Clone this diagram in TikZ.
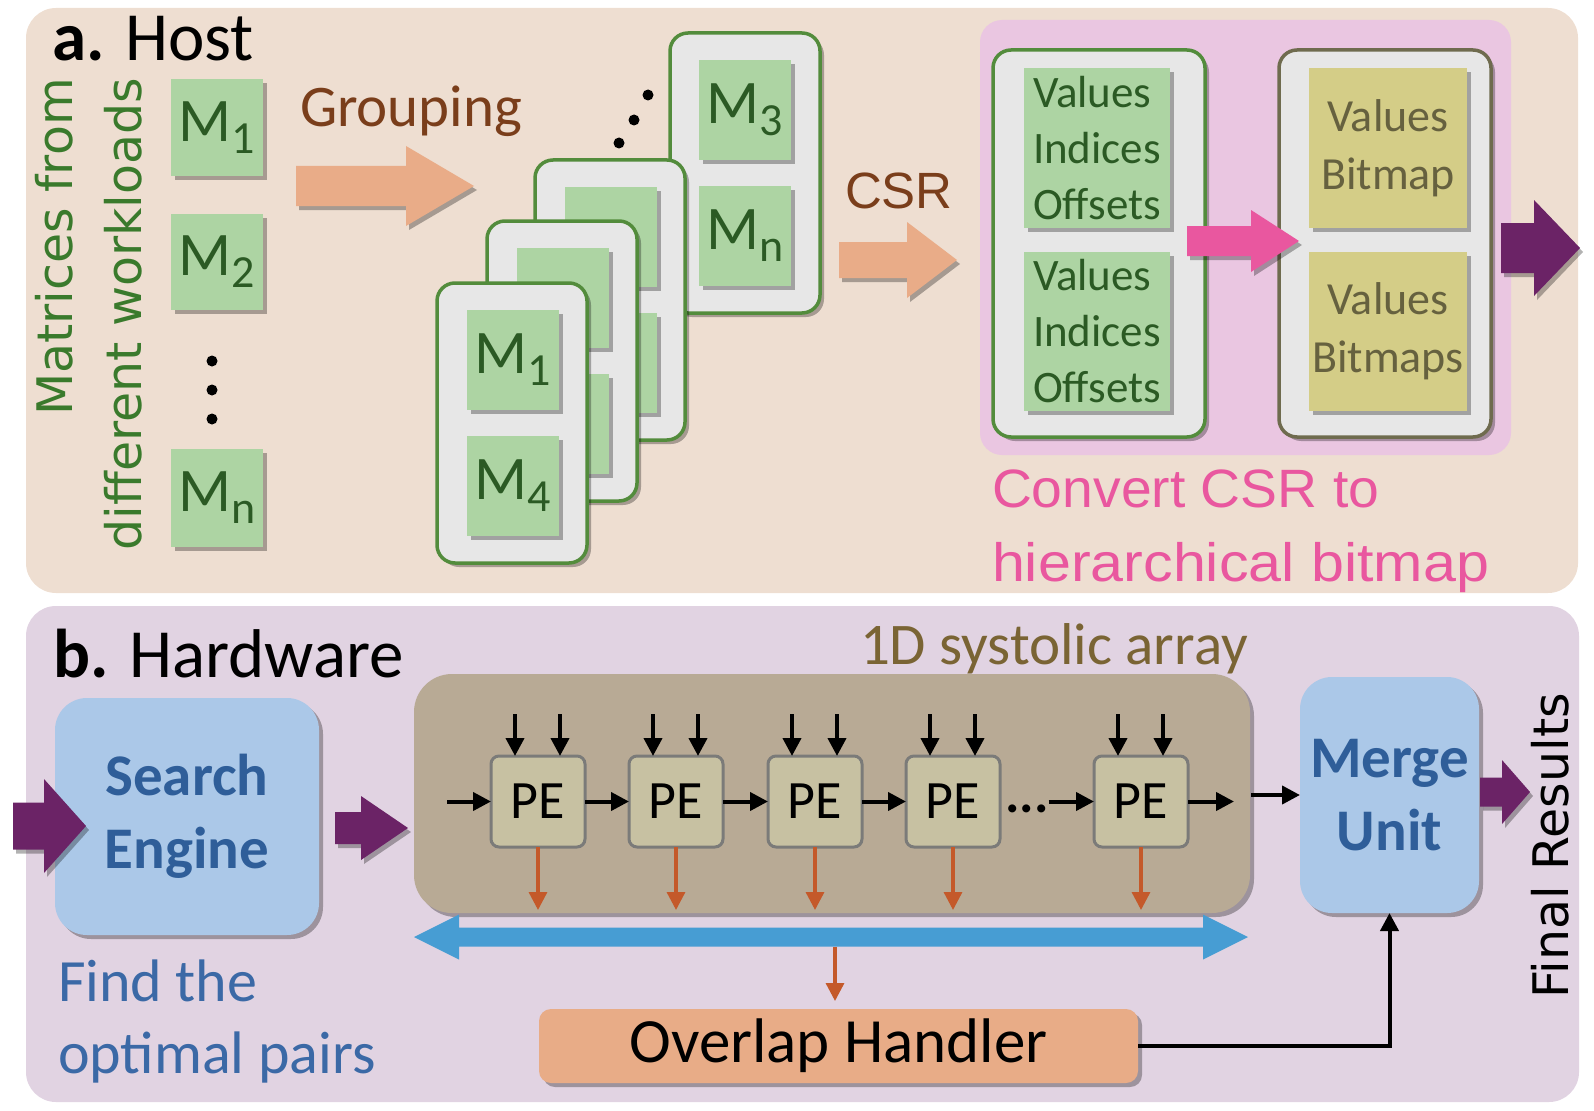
\documentclass[tikz,border=0pt]{standalone}
\usepackage{fontspec}
\setmainfont{Carlito}
\newfontfamily\arialf{Liberation Sans}
\newfontfamily\verdf{DejaVu Sans}
\usetikzlibrary{shadows,arrows.meta,calc}
\newcommand{\setfs}[1]{\fontsize{#1}{#1}\selectfont}
\newcommand{\Msub}[1]{M\raisebox{-12pt}{\setfs{46}#1}}
\newcommand{\mkbox}[7]{\node[#1, minimum width={(#5)-(#3)}, minimum height={(#6)-(#4)}] (#2) at ({((#3)+(#5))/2},{((#4)+(#6))/2}) {#7};}
\newcommand{\blockarr}[7]{\fill[#1, drop shadow={shadow xshift=3pt,shadow yshift=-4pt,opacity=.3,fill=black}] (#2,{(#4)-(#5)}) -- ({(#3)-(#7)},{(#4)-(#5)}) -- ({(#3)-(#7)},{(#4)-(#6)}) -- (#3,#4) -- ({(#3)-(#7)},{(#4)+(#6)}) -- ({(#3)-(#7)},{(#4)+(#5)}) -- (#2,{(#4)+(#5)}) -- cycle;}
\definecolor{peachbg}{HTML}{EEDED1}
\definecolor{lilacbg}{HTML}{E1D3E2}
\definecolor{mgreen}{HTML}{ADD4A3}
\definecolor{mtext}{HTML}{2B5A24}
\definecolor{rottxt}{HTML}{3A7A2C}
\definecolor{cardborder}{HTML}{538C3C}
\definecolor{cardfill}{HTML}{E7E7E7}
\definecolor{browntxt}{HTML}{7A3E1B}
\definecolor{orangeA}{HTML}{E9AC88}
\definecolor{pinkbg}{HTML}{EAC6E1}
\definecolor{pinkA}{HTML}{E9579F}
\definecolor{pinktxt}{HTML}{E9579F}
\definecolor{yboxc}{HTML}{D4CD87}
\definecolor{ytxt}{HTML}{66613F}
\definecolor{ycardc}{HTML}{6F6B4E}
\definecolor{purpleA}{HTML}{6B2366}
\definecolor{blueboxc}{HTML}{ABC8E8}
\definecolor{bluetxt}{HTML}{2F5E99}
\definecolor{findtxt}{HTML}{3B69A6}
\definecolor{sysc}{HTML}{B8AA95}
\definecolor{pefill}{HTML}{C7C1A2}
\definecolor{peborder}{HTML}{7B7B79}
\definecolor{orgarrow}{HTML}{C4592A}
\definecolor{busblue}{HTML}{479DD3}
\definecolor{ovlfill}{HTML}{E8AC87}
\definecolor{olivetxt}{HTML}{7A6434}
\begin{document}
\begin{tikzpicture}[x=1pt,y=-1pt,
  every node/.style={inner sep=0pt, outer sep=0pt},
  shad/.style={drop shadow={shadow xshift=4pt,shadow yshift=-4pt,opacity=.3,fill=black}},
  mbox/.style={rectangle, fill=mgreen, shad, text=mtext, font=\setfs{62}},
  gbox/.style={rectangle, fill=mgreen, shad, text=mtext, align=left, font={\fontsize{45}{56}\selectfont}},
  ybox/.style={rectangle, fill=yboxc, shad, text=ytxt, align=center, font={\fontsize{46}{58}\selectfont}},
  card/.style={rectangle, rounded corners=18pt, draw=cardborder, line width=3.5pt, fill=cardfill, shad},
  ycard/.style={rectangle, rounded corners=18pt, draw=ycardc, line width=3.5pt, fill=cardfill, shad},
  bluebox/.style={rectangle, rounded corners=32pt, fill=blueboxc, shad, text=bluetxt, align=center, font={\bfseries\fontsize{59}{73}\selectfont}},
  sysbox/.style={rectangle, rounded corners=38pt, fill=sysc, shad},
  pebox/.style={rectangle, rounded corners=8pt, fill=pefill, draw=peborder, line width=3pt, font=\setfs{54}},
  ovlbox/.style={rectangle, rounded corners=12pt, fill=ovlfill, shad, font=\setfs{63}},
  blk/.style={draw=black, line width=4pt, -{Triangle[length=18pt,width=18pt]}},
  org/.style={draw=orgarrow, line width=3.3pt, -{Triangle[length=18pt,width=18pt]}}
]
\useasboundingbox (0,0) rectangle (1594,1110);
% panels
\fill[peachbg, rounded corners=30pt] (26,8) rectangle (1578,593);
\fill[lilacbg, rounded corners=30pt] (26,606) rectangle (1579,1102);

% ---------- a. Host ----------
\node[anchor=base west] (ta) at (52,61) {\setfs{69}\textbf{a.} Host};
\node[rotate=90, text=rottxt, font=\verdf\setfs{49}] (rt1) at (54,247) {Matrices from};
\node[rotate=90, text=rottxt, font=\verdf\setfs{49}] (rt2) at (123,314) {different workloads};

\mkbox{mbox}{lm1}{171}{79}{263}{176}{\Msub{1}}
\mkbox{mbox}{lm2}{171}{214}{263}{310}{\Msub{2}}
\mkbox{mbox}{lmn}{171}{449}{263}{547}{\Msub{n}}
\foreach \yy in {361,390,419} \fill (212,\yy) circle[radius=5.5pt];

\node[anchor=base west, text=browntxt, font=\setfs{59}] (tgroup) at (300,127) {Grouping};
\blockarr{orangeA}{296}{474}{186}{20}{40}{68}

% stack of cards
\mkbox{card}{cb}{670}{33}{820}{313}{}
\mkbox{mbox}{cb1}{699}{60}{791}{160}{\Msub{3}}
\mkbox{mbox}{cb2}{699}{186}{791}{286}{\Msub{n}}
\mkbox{card}{c2}{535}{160}{685}{440}{}
\mkbox{mbox}{c21}{565}{187}{657}{287}{}
\mkbox{mbox}{c22}{565}{313}{657}{413}{}
\mkbox{card}{c3}{487}{221}{637}{501}{}
\mkbox{mbox}{c31}{517}{248}{609}{348}{}
\mkbox{mbox}{c32}{517}{374}{609}{474}{}
\mkbox{card}{cf}{437}{283}{587}{563}{}
\mkbox{mbox}{cf1}{467}{310}{559}{410}{\Msub{1}}
\mkbox{mbox}{cf2}{467}{436}{559}{536}{\Msub{4}}
\fill (648,95) circle[radius=5.5pt];
\fill (634,120) circle[radius=5.5pt];
\fill (619,143) circle[radius=5.5pt];

% CSR
\node[anchor=base west, font=\arialf\setfs{51}, text=browntxt] (tcsr) at (845,208) {CSR};
\blockarr{orangeA}{839}{957}{260}{18}{38}{50}

% conversion region
\fill[pinkbg, rounded corners=22pt] (980,20) rectangle (1511,455);
\mkbox{card}{csrcard}{993}{50}{1205}{437}{}
\mkbox{gbox}{csr1}{1024}{68}{1170}{228}{Values\\Indices\\Offsets}
\mkbox{gbox}{csr2}{1024}{252}{1170}{411}{Values\\Indices\\Offsets}
\mkbox{ycard}{bmcard}{1279}{50}{1491}{437}{}
\mkbox{ybox}{bm1}{1309}{68}{1467}{228}{Values\\Bitmap}
\mkbox{ybox}{bm2}{1309}{252}{1467}{411}{Values\\Bitmaps}
\blockarr{pinkA}{1187}{1299}{241}{15}{31}{48}
\blockarr{purpleA}{1501}{1580}{248}{25}{48}{46}
\node[anchor=base west, text=pinktxt, font=\arialf\setfs{54}] (conv1) at (992,507) {\scalebox{1.024}[1]{Convert CSR to}};
\node[anchor=base west, text=pinktxt, font=\arialf\setfs{54}] (conv2) at (992,581) {\scalebox{1.097}[1]{hierarchical bitmap}};

% ---------- b. Hardware ----------
\node[anchor=base west] (tb) at (53,677) {\setfs{69}\textbf{b.} Hardware};
\node[anchor=base west, text=olivetxt, font=\setfs{59}] (tsys) at (860,664) {1D systolic array};

\mkbox{bluebox}{search}{55}{698}{319}{935}{Search\\Engine}
\blockarr{purpleA}{13}{86}{826}{23.5}{47}{42}
\blockarr{purpleA}{335}{408}{828}{16}{32}{47}
\node[anchor=base west, text=findtxt, font=\setfs{60}] (find1) at (58,1001) {Find the};
\node[anchor=base west, text=findtxt, font=\setfs{60}] (find2) at (58,1073) {optimal pairs};

\mkbox{sysbox}{sys}{414}{674}{1250}{913}{}
\mkbox{pebox}{pe1}{491}{756}{585}{847}{PE}
\mkbox{pebox}{pe2}{629}{756}{723}{847}{PE}
\mkbox{pebox}{pe3}{768}{756}{862}{847}{PE}
\mkbox{pebox}{pe4}{906}{756}{1000}{847}{PE}
\mkbox{pebox}{pe5}{1094}{756}{1188}{847}{PE}
\node[anchor=base, font=\bfseries\setfs{54}] (dots) at (1027,812) {...};

\coordinate (sin) at (447,801.5);
\coordinate (sout) at (1234,801.5);
\coordinate (min) at (1251,795);
\draw[blk] (sin) -- (pe1.west);
\draw[blk] (pe1.east) -- (pe2.west);
\draw[blk] (pe2.east) -- (pe3.west);
\draw[blk] (pe3.east) -- (pe4.west);
\draw[blk] (dots.east |- pe5.west) -- (pe5.west);
\draw[blk] (pe5.east) -- (sout);
\foreach \p in {pe1,pe2,pe3,pe4,pe5}{
  \draw[blk] ([xshift=-23pt,yshift=42pt]\p.north) -- ([xshift=-23pt]\p.north);
  \draw[blk] ([xshift=22pt,yshift=42pt]\p.north) -- ([xshift=22pt]\p.north);
  \draw[org] (\p.south) -- ++(0,63);
}

% bus
\fill[busblue] (414,937) -- (459,914.5) -- (459,927.5) -- (1203,927.5) -- (1203,914.5) -- (1248,937) -- (1203,959.5) -- (1203,946.5) -- (459,946.5) -- (459,959.5) -- cycle;
\coordinate (busout) at (835,947);

\mkbox{ovlbox}{ovl}{539}{1009}{1138}{1083}{Overlap Handler}
\draw[org, shorten >=8pt] (busout) -- (busout |- ovl.north);

\mkbox{bluebox}{merge}{1300}{677}{1479}{913}{Merge\\Unit}
\draw[blk] (min) -- (merge.west);
\draw[blk] (ovl.east) -| (merge.south);
\blockarr{purpleA}{1480}{1530}{792}{14.5}{32}{28}
\node[rotate=90, font=\verdf\setfs{49}] (final) at (1550,846) {Final Results};
\end{tikzpicture}
\end{document}
